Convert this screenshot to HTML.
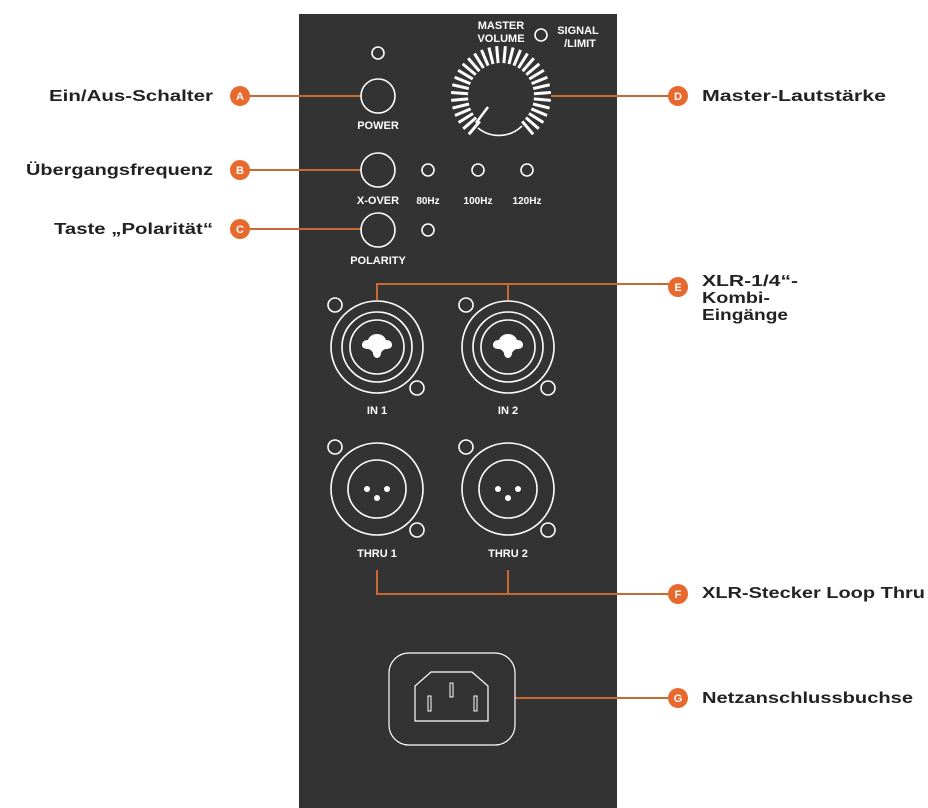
<!DOCTYPE html>
<html><head><style>html,body{margin:0;padding:0;background:#fff}svg{display:block}</style></head><body>
<svg width="928" height="808" viewBox="0 0 928 808" xmlns="http://www.w3.org/2000/svg" font-family="Liberation Sans, Arial, sans-serif">
<rect x="299" y="14" width="318" height="794" fill="#333333"/>
<g stroke="#c8692f" stroke-width="2" fill="none">
<line x1="240" y1="96" x2="361" y2="96"/>
<line x1="240" y1="170" x2="361" y2="170"/>
<line x1="240" y1="229" x2="361" y2="229"/>
<line x1="551" y1="96" x2="678" y2="96"/>
<polyline points="377,300 377,284 678,284"/>
<line x1="508" y1="284" x2="508" y2="300"/>
<polyline points="377,570 377,594 678,594"/>
<line x1="508" y1="570" x2="508" y2="594"/>
<line x1="515" y1="698" x2="678" y2="698"/>
</g>
<g fill="#e8692d">
<circle cx="240" cy="96" r="10"/><circle cx="240" cy="170" r="10"/><circle cx="240" cy="229" r="10"/>
<circle cx="678" cy="96" r="10"/><circle cx="678" cy="287" r="10"/><circle cx="678" cy="594" r="10"/><circle cx="678" cy="698" r="10"/>
</g>
<g fill="#fff" font-size="11" font-weight="bold" text-anchor="middle">
<text x="240" y="100">A</text><text x="240" y="174">B</text><text x="240" y="233">C</text>
<text x="678" y="100">D</text><text x="678" y="291">E</text><text x="678" y="598">F</text><text x="678" y="702">G</text>
</g>
<g fill="#222" font-size="15.5" font-weight="bold">
<text x="49" y="101" textLength="164" lengthAdjust="spacingAndGlyphs">Ein/Aus-Schalter</text>
<text x="26" y="175" textLength="187" lengthAdjust="spacingAndGlyphs">Übergangsfrequenz</text>
<text x="54" y="234" textLength="159" lengthAdjust="spacingAndGlyphs">Taste „Polarität“</text>
<text x="702" y="101" textLength="184" lengthAdjust="spacingAndGlyphs">Master-Lautstärke</text>
<text x="702" y="286" textLength="96" lengthAdjust="spacingAndGlyphs">XLR-1/4“-</text>
<text x="702" y="303" textLength="68" lengthAdjust="spacingAndGlyphs">Kombi-</text>
<text x="702" y="320" textLength="86" lengthAdjust="spacingAndGlyphs">Eingänge</text>
<text x="702" y="598" textLength="223" lengthAdjust="spacingAndGlyphs">XLR-Stecker Loop Thru</text>
<text x="702" y="703" textLength="211" lengthAdjust="spacingAndGlyphs">Netzanschlussbuchse</text>
</g>
<g stroke="#fff" stroke-width="1.6" fill="none">
<circle cx="378" cy="53" r="6"/>
<circle cx="378" cy="96" r="17"/>
<circle cx="378" cy="170" r="17"/>
<circle cx="378" cy="230" r="17"/>
<circle cx="428" cy="170" r="6"/><circle cx="478" cy="170" r="6"/><circle cx="527" cy="170" r="6"/>
<circle cx="428" cy="230" r="6"/>
<circle cx="541" cy="35" r="6"/>
<path d="M 478 128 A 33 33 0 0 0 522 126"/>
<line x1="488" y1="107" x2="476" y2="123" stroke-width="2.5"/>
<circle cx="377" cy="347" r="46"/><circle cx="377" cy="347" r="35"/><circle cx="377" cy="347" r="27"/>
<circle cx="335" cy="305" r="7"/><circle cx="417" cy="388" r="7"/>
<circle cx="508" cy="347" r="46"/><circle cx="508" cy="347" r="35"/><circle cx="508" cy="347" r="27"/>
<circle cx="466" cy="305" r="7"/><circle cx="548" cy="388" r="7"/>
<circle cx="377" cy="489" r="46"/><circle cx="377" cy="489" r="29"/>
<circle cx="335" cy="447" r="7"/><circle cx="417" cy="530" r="7"/>
<circle cx="508" cy="489" r="46"/><circle cx="508" cy="489" r="29"/>
<circle cx="466" cy="447" r="7"/><circle cx="548" cy="530" r="7"/>
<rect x="389" y="653" width="126" height="92" rx="20" stroke-width="1.2"/>
<path d="M 415 721 L 488 721 L 488 686 L 472 672 L 431 672 L 415 686 Z" stroke-width="1.2"/>
<rect x="450" y="683" width="3" height="14" stroke-width="1"/>
<rect x="428" y="696" width="3" height="15" stroke-width="1"/>
<rect x="474" y="696" width="3" height="15" stroke-width="1"/>
</g>
<g fill="#fff">
<path d="M377 334 c-5 0 -8 3 -9 6 c-4 0 -6 2 -6 5 c0 3 3 4 6 4 c2 0 4 2 5 4 c0 3 2 5 4 5 c2 0 4 -2 4 -5 c1 -2 3 -4 5 -4 c3 0 6 -1 6 -4 c0 -3 -2 -5 -6 -5 c-1 -3 -4 -6 -9 -6z"/>
<path d="M508 334 c-5 0 -8 3 -9 6 c-4 0 -6 2 -6 5 c0 3 3 4 6 4 c2 0 4 2 5 4 c0 3 2 5 4 5 c2 0 4 -2 4 -5 c1 -2 3 -4 5 -4 c3 0 6 -1 6 -4 c0 -3 -2 -5 -6 -5 c-1 -3 -4 -6 -9 -6z"/>
<circle cx="367" cy="489" r="3"/><circle cx="387" cy="489" r="3"/><circle cx="377" cy="498" r="3"/>
<circle cx="498" cy="489" r="3"/><circle cx="518" cy="489" r="3"/><circle cx="508" cy="498" r="3"/>
</g>
<g fill="#fff" font-size="11" font-weight="bold" text-anchor="middle">
<text x="378" y="129">POWER</text>
<text x="378" y="204">X-OVER</text>
<text x="428" y="204" font-size="10">80Hz</text>
<text x="478" y="204" font-size="10">100Hz</text>
<text x="527" y="204" font-size="10">120Hz</text>
<text x="378" y="264">POLARITY</text>
<text x="501" y="29">MASTER</text>
<text x="501" y="42">VOLUME</text>
<text x="578" y="34">SIGNAL</text>
<text x="580" y="47">/LIMIT</text>
<text x="377" y="414">IN 1</text>
<text x="508" y="414">IN 2</text>
<text x="377" y="557">THRU 1</text>
<text x="508" y="557">THRU 2</text>
</g>
<g stroke="#fff" stroke-width="3">
<line x1="501" y1="63" x2="501" y2="46" transform="rotate(-140 501 96)"/>
<line x1="501" y1="63" x2="501" y2="46" transform="rotate(-131 501 96)"/>
<line x1="501" y1="63" x2="501" y2="46" transform="rotate(-122 501 96)"/>
<line x1="501" y1="63" x2="501" y2="46" transform="rotate(-113 501 96)"/>
<line x1="501" y1="63" x2="501" y2="46" transform="rotate(-104 501 96)"/>
<line x1="501" y1="63" x2="501" y2="46" transform="rotate(-95 501 96)"/>
<line x1="501" y1="63" x2="501" y2="46" transform="rotate(-86 501 96)"/>
<line x1="501" y1="63" x2="501" y2="46" transform="rotate(-77 501 96)"/>
<line x1="501" y1="63" x2="501" y2="46" transform="rotate(-68 501 96)"/>
<line x1="501" y1="63" x2="501" y2="46" transform="rotate(-59 501 96)"/>
<line x1="501" y1="63" x2="501" y2="46" transform="rotate(-50 501 96)"/>
<line x1="501" y1="63" x2="501" y2="46" transform="rotate(-41 501 96)"/>
<line x1="501" y1="63" x2="501" y2="46" transform="rotate(-32 501 96)"/>
<line x1="501" y1="63" x2="501" y2="46" transform="rotate(-23 501 96)"/>
<line x1="501" y1="63" x2="501" y2="46" transform="rotate(-14 501 96)"/>
<line x1="501" y1="63" x2="501" y2="46" transform="rotate(-5 501 96)"/>
<line x1="501" y1="63" x2="501" y2="46" transform="rotate(5 501 96)"/>
<line x1="501" y1="63" x2="501" y2="46" transform="rotate(14 501 96)"/>
<line x1="501" y1="63" x2="501" y2="46" transform="rotate(23 501 96)"/>
<line x1="501" y1="63" x2="501" y2="46" transform="rotate(32 501 96)"/>
<line x1="501" y1="63" x2="501" y2="46" transform="rotate(41 501 96)"/>
<line x1="501" y1="63" x2="501" y2="46" transform="rotate(50 501 96)"/>
<line x1="501" y1="63" x2="501" y2="46" transform="rotate(59 501 96)"/>
<line x1="501" y1="63" x2="501" y2="46" transform="rotate(68 501 96)"/>
<line x1="501" y1="63" x2="501" y2="46" transform="rotate(77 501 96)"/>
<line x1="501" y1="63" x2="501" y2="46" transform="rotate(86 501 96)"/>
<line x1="501" y1="63" x2="501" y2="46" transform="rotate(95 501 96)"/>
<line x1="501" y1="63" x2="501" y2="46" transform="rotate(104 501 96)"/>
<line x1="501" y1="63" x2="501" y2="46" transform="rotate(113 501 96)"/>
<line x1="501" y1="63" x2="501" y2="46" transform="rotate(122 501 96)"/>
<line x1="501" y1="63" x2="501" y2="46" transform="rotate(131 501 96)"/>
<line x1="501" y1="63" x2="501" y2="46" transform="rotate(140 501 96)"/>
</g>
</svg>
</body></html>
